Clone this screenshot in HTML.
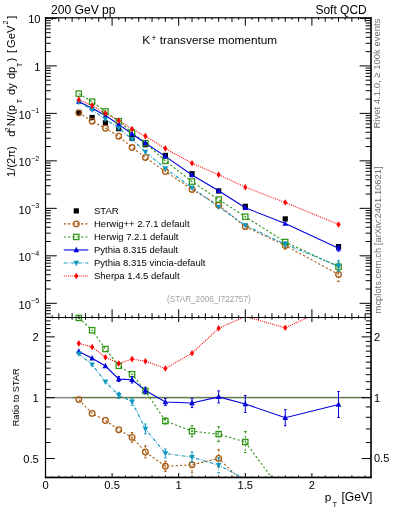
<!DOCTYPE html><html><head><meta charset="utf-8"><style>html,body{margin:0;padding:0;background:#fff;width:393px;height:512px;overflow:hidden}svg{display:block;will-change:transform}text{font-family:"Liberation Sans",sans-serif}</style></head><body>
<svg width="393" height="512" viewBox="0 0 393 512">
<defs><clipPath id="cm"><rect x="45.5" y="17.8" width="325.4" height="299.5"/></clipPath><clipPath id="cr"><rect x="45.5" y="317.3" width="325.4" height="160.5"/></clipPath></defs>
<g clip-path="url(#cm)">
<rect x="76.20" y="109.80" width="5.2" height="5.2" fill="#000"/>
<rect x="89.52" y="114.90" width="5.2" height="5.2" fill="#000"/>
<rect x="102.84" y="120.30" width="5.2" height="5.2" fill="#000"/>
<rect x="116.16" y="126.10" width="5.2" height="5.2" fill="#000"/>
<rect x="129.48" y="135.60" width="5.2" height="5.2" fill="#000"/>
<rect x="142.80" y="142.10" width="5.2" height="5.2" fill="#000"/>
<rect x="162.78" y="152.80" width="5.2" height="5.2" fill="#000"/>
<rect x="189.42" y="171.10" width="5.2" height="5.2" fill="#000"/>
<rect x="216.06" y="188.40" width="5.2" height="5.2" fill="#000"/>
<rect x="242.70" y="203.70" width="5.2" height="5.2" fill="#000"/>
<rect x="282.66" y="216.30" width="5.2" height="5.2" fill="#000"/>
<rect x="335.94" y="244.00" width="5.2" height="5.2" fill="#000"/>
<polyline points="78.80,112.85 92.12,121.19 105.44,128.26 118.76,136.22 132.08,147.53 145.40,157.43 165.38,171.52 192.02,189.46 218.66,205.26 245.30,226.65 285.26,245.60 338.54,274.40" stroke="#a85a12" stroke-width="1.1" fill="none" stroke-dasharray="2.2,2.1"/>
<polyline points="78.80,93.65 92.12,101.64 105.44,111.46 118.76,121.21 132.08,132.68 145.40,143.13 165.38,160.87 192.02,181.57 218.66,199.55 245.30,216.71 285.26,242.00 338.54,266.80" stroke="#2e9414" stroke-width="1.1" fill="none" stroke-dasharray="2.2,2.1"/>
<polyline points="78.80,101.55 92.12,108.24 105.44,115.45 118.76,124.33 132.08,133.99 145.40,143.01 165.38,156.41 192.02,174.95 218.66,190.81 245.30,207.78 285.26,223.60 338.54,248.20" stroke="#0000dc" stroke-width="1.1" fill="none"/>
<polyline points="78.80,102.09 92.12,109.72 105.44,119.16 118.76,128.14 132.08,139.16 145.40,152.03 165.38,168.49 192.02,187.68 218.66,206.86 245.30,225.40 285.26,244.30 338.54,266.00" stroke="#0f98bf" stroke-width="1.1" fill="none" stroke-dasharray="3.4,1.5,0.8,1.5"/>
<polyline points="78.80,99.64 92.12,105.59 105.44,113.39 118.76,120.67 132.08,129.13 145.40,136.12 165.38,148.54 192.02,163.25 218.66,174.70 245.30,187.22 285.26,202.48 338.54,224.49" stroke="#ff0000" stroke-width="1.1" fill="none" stroke-dasharray="1,1.1"/>
<circle cx="78.80" cy="112.85" r="2.8" fill="none" stroke="#a85a12" stroke-width="1.3"/>
<circle cx="92.12" cy="121.19" r="2.8" fill="none" stroke="#a85a12" stroke-width="1.3"/>
<circle cx="105.44" cy="128.26" r="2.8" fill="none" stroke="#a85a12" stroke-width="1.3"/>
<circle cx="118.76" cy="136.22" r="2.8" fill="none" stroke="#a85a12" stroke-width="1.3"/>
<circle cx="132.08" cy="147.53" r="2.8" fill="none" stroke="#a85a12" stroke-width="1.3"/>
<circle cx="145.40" cy="157.43" r="2.8" fill="none" stroke="#a85a12" stroke-width="1.3"/>
<circle cx="165.38" cy="171.52" r="2.8" fill="none" stroke="#a85a12" stroke-width="1.3"/>
<circle cx="192.02" cy="189.46" r="2.8" fill="none" stroke="#a85a12" stroke-width="1.3"/>
<circle cx="218.66" cy="205.26" r="2.8" fill="none" stroke="#a85a12" stroke-width="1.3"/>
<circle cx="245.30" cy="226.65" r="2.8" fill="none" stroke="#a85a12" stroke-width="1.3"/>
<path d="M285.26,242.10V249.10" stroke="#a85a12" stroke-width="1" stroke-dasharray="2.2,2.1" fill="none"/><path d="M283.96,242.10H286.56M283.96,249.10H286.56" stroke="#a85a12" stroke-width="1" fill="none"/>
<circle cx="285.26" cy="245.60" r="2.8" fill="none" stroke="#a85a12" stroke-width="1.3"/>
<path d="M338.54,267.40V281.40" stroke="#a85a12" stroke-width="1" stroke-dasharray="2.2,2.1" fill="none"/><path d="M337.24,267.40H339.84M337.24,281.40H339.84" stroke="#a85a12" stroke-width="1" fill="none"/>
<circle cx="338.54" cy="274.40" r="2.8" fill="none" stroke="#a85a12" stroke-width="1.3"/>
<rect x="76.15" y="91.00" width="5.3" height="5.3" fill="none" stroke="#2e9414" stroke-width="1.25"/>
<rect x="89.47" y="98.99" width="5.3" height="5.3" fill="none" stroke="#2e9414" stroke-width="1.25"/>
<rect x="102.79" y="108.81" width="5.3" height="5.3" fill="none" stroke="#2e9414" stroke-width="1.25"/>
<rect x="116.11" y="118.56" width="5.3" height="5.3" fill="none" stroke="#2e9414" stroke-width="1.25"/>
<rect x="129.43" y="130.03" width="5.3" height="5.3" fill="none" stroke="#2e9414" stroke-width="1.25"/>
<rect x="142.75" y="140.48" width="5.3" height="5.3" fill="none" stroke="#2e9414" stroke-width="1.25"/>
<rect x="162.73" y="158.22" width="5.3" height="5.3" fill="none" stroke="#2e9414" stroke-width="1.25"/>
<rect x="189.37" y="178.92" width="5.3" height="5.3" fill="none" stroke="#2e9414" stroke-width="1.25"/>
<rect x="216.01" y="196.90" width="5.3" height="5.3" fill="none" stroke="#2e9414" stroke-width="1.25"/>
<rect x="242.65" y="214.06" width="5.3" height="5.3" fill="none" stroke="#2e9414" stroke-width="1.25"/>
<rect x="282.61" y="239.35" width="5.3" height="5.3" fill="none" stroke="#2e9414" stroke-width="1.25"/>
<path d="M338.54,262.80V270.80" stroke="#2e9414" stroke-width="1" stroke-dasharray="2.2,2.1" fill="none"/><path d="M337.24,262.80H339.84M337.24,270.80H339.84" stroke="#2e9414" stroke-width="1" fill="none"/>
<rect x="335.89" y="264.15" width="5.3" height="5.3" fill="none" stroke="#2e9414" stroke-width="1.25"/>
<path d="M78.80,98.35L81.60,103.75L76.00,103.75Z" fill="#0000dc"/>
<path d="M92.12,105.04L94.92,110.44L89.32,110.44Z" fill="#0000dc"/>
<path d="M105.44,112.25L108.24,117.65L102.64,117.65Z" fill="#0000dc"/>
<path d="M118.76,121.13L121.56,126.53L115.96,126.53Z" fill="#0000dc"/>
<path d="M132.08,130.79L134.88,136.19L129.28,136.19Z" fill="#0000dc"/>
<path d="M145.40,139.81L148.20,145.21L142.60,145.21Z" fill="#0000dc"/>
<path d="M165.38,153.21L168.18,158.61L162.58,158.61Z" fill="#0000dc"/>
<path d="M192.02,171.75L194.82,177.15L189.22,177.15Z" fill="#0000dc"/>
<path d="M218.66,187.61L221.46,193.01L215.86,193.01Z" fill="#0000dc"/>
<path d="M245.30,204.58L248.10,209.98L242.50,209.98Z" fill="#0000dc"/>
<path d="M285.26,220.40L288.06,225.80L282.46,225.80Z" fill="#0000dc"/>
<path d="M338.54,245.20V251.20" stroke="#0000dc" stroke-width="1" fill="none"/><path d="M337.24,245.20H339.84M337.24,251.20H339.84" stroke="#0000dc" stroke-width="1" fill="none"/>
<path d="M338.54,245.00L341.34,250.40L335.74,250.40Z" fill="#0000dc"/>
<path d="M78.80,105.29L81.60,99.89L76.00,99.89Z" fill="#0f98bf"/>
<path d="M92.12,112.92L94.92,107.52L89.32,107.52Z" fill="#0f98bf"/>
<path d="M105.44,122.36L108.24,116.96L102.64,116.96Z" fill="#0f98bf"/>
<path d="M118.76,131.34L121.56,125.94L115.96,125.94Z" fill="#0f98bf"/>
<path d="M132.08,142.36L134.88,136.96L129.28,136.96Z" fill="#0f98bf"/>
<path d="M145.40,155.23L148.20,149.83L142.60,149.83Z" fill="#0f98bf"/>
<path d="M165.38,171.69L168.18,166.29L162.58,166.29Z" fill="#0f98bf"/>
<path d="M192.02,190.88L194.82,185.48L189.22,185.48Z" fill="#0f98bf"/>
<path d="M218.66,210.06L221.46,204.66L215.86,204.66Z" fill="#0f98bf"/>
<path d="M245.30,228.60L248.10,223.20L242.50,223.20Z" fill="#0f98bf"/>
<path d="M285.26,241.80V246.80" stroke="#0f98bf" stroke-width="1" stroke-dasharray="3.4,1.5,0.8,1.5" fill="none"/><path d="M283.96,241.80H286.56M283.96,246.80H286.56" stroke="#0f98bf" stroke-width="1" fill="none"/>
<path d="M285.26,247.50L288.06,242.10L282.46,242.10Z" fill="#0f98bf"/>
<path d="M338.54,260.40V271.60" stroke="#0f98bf" stroke-width="1" stroke-dasharray="3.4,1.5,0.8,1.5" fill="none"/><path d="M337.24,260.40H339.84M337.24,271.60H339.84" stroke="#0f98bf" stroke-width="1" fill="none"/>
<path d="M338.54,269.20L341.34,263.80L335.74,263.80Z" fill="#0f98bf"/>
<path d="M78.80,96.34L80.90,99.64L78.80,102.94L76.70,99.64Z" fill="#ff0000"/>
<path d="M92.12,102.29L94.22,105.59L92.12,108.89L90.02,105.59Z" fill="#ff0000"/>
<path d="M105.44,110.09L107.54,113.39L105.44,116.69L103.34,113.39Z" fill="#ff0000"/>
<path d="M118.76,117.37L120.86,120.67L118.76,123.97L116.66,120.67Z" fill="#ff0000"/>
<path d="M132.08,125.83L134.18,129.13L132.08,132.43L129.98,129.13Z" fill="#ff0000"/>
<path d="M145.40,132.82L147.50,136.12L145.40,139.42L143.30,136.12Z" fill="#ff0000"/>
<path d="M165.38,145.24L167.48,148.54L165.38,151.84L163.28,148.54Z" fill="#ff0000"/>
<path d="M192.02,159.95L194.12,163.25L192.02,166.55L189.92,163.25Z" fill="#ff0000"/>
<path d="M218.66,171.40L220.76,174.70L218.66,178.00L216.56,174.70Z" fill="#ff0000"/>
<path d="M245.30,183.92L247.40,187.22L245.30,190.52L243.20,187.22Z" fill="#ff0000"/>
<path d="M285.26,199.18L287.36,202.48L285.26,205.78L283.16,202.48Z" fill="#ff0000"/>
<path d="M338.54,221.19L340.64,224.49L338.54,227.79L336.44,224.49Z" fill="#ff0000"/>
</g>
<g clip-path="url(#cr)">
<rect x="45.5" y="396.9" width="325.4" height="1.2" fill="#8a8a8a"/>
<rect x="45.5" y="398.1" width="325.4" height="0.9" fill="#d0d0d0"/>
<rect x="72.14" y="396.9" width="293.04" height="1.2" fill="#5f7f4a"/>
<polyline points="78.80,399.60 92.12,413.40 105.44,420.50 118.76,429.70 132.08,437.40 145.40,451.90 165.38,466.30 192.02,464.80 218.66,458.40 245.30,484.30 285.26,511.35 338.54,516.03" stroke="#a85a12" stroke-width="1.1" fill="none" stroke-dasharray="2.2,2.1"/>
<polyline points="78.80,317.90 92.12,330.20 105.44,349.00 118.76,365.80 132.08,374.20 145.40,391.00 165.38,421.00 192.02,431.20 218.66,434.10 245.30,442.00 285.26,496.03 338.54,483.68" stroke="#2e9414" stroke-width="1.1" fill="none" stroke-dasharray="2.2,2.1"/>
<polyline points="78.80,351.50 92.12,358.30 105.44,366.00 118.76,379.10 132.08,379.80 145.40,390.50 165.38,402.00 192.02,403.00 218.66,396.90 245.30,404.00 285.26,417.70 338.54,404.50" stroke="#0000dc" stroke-width="1.1" fill="none"/>
<polyline points="78.80,353.80 92.12,364.60 105.44,381.80 118.76,395.30 132.08,401.80 145.40,428.90 165.38,453.40 192.02,457.20 218.66,465.20 245.30,479.00 285.26,505.82 338.54,480.28" stroke="#0f98bf" stroke-width="1.1" fill="none" stroke-dasharray="3.4,1.5,0.8,1.5"/>
<polyline points="78.80,343.40 92.12,347.00 105.44,357.20 118.76,363.50 132.08,359.10 145.40,361.20 165.38,368.50 192.02,353.20 218.66,328.30 245.30,316.50 285.26,327.80 338.54,303.60" stroke="#ff0000" stroke-width="1.1" fill="none" stroke-dasharray="1,1.1"/>
</g>
<circle cx="78.80" cy="399.60" r="2.8" fill="none" stroke="#a85a12" stroke-width="1.3"/>
<circle cx="92.12" cy="413.40" r="2.8" fill="none" stroke="#a85a12" stroke-width="1.3"/>
<circle cx="105.44" cy="420.50" r="2.8" fill="none" stroke="#a85a12" stroke-width="1.3"/>
<circle cx="118.76" cy="429.70" r="2.8" fill="none" stroke="#a85a12" stroke-width="1.3"/>
<path d="M132.08,432.60V442.20" stroke="#a85a12" stroke-width="1" stroke-dasharray="2.2,2.1" fill="none"/><path d="M130.78,432.60H133.38M130.78,442.20H133.38" stroke="#a85a12" stroke-width="1" fill="none"/>
<circle cx="132.08" cy="437.40" r="2.8" fill="none" stroke="#a85a12" stroke-width="1.3"/>
<path d="M145.40,445.90V457.90" stroke="#a85a12" stroke-width="1" stroke-dasharray="2.2,2.1" fill="none"/><path d="M144.10,445.90H146.70M144.10,457.90H146.70" stroke="#a85a12" stroke-width="1" fill="none"/>
<circle cx="145.40" cy="451.90" r="2.8" fill="none" stroke="#a85a12" stroke-width="1.3"/>
<path d="M165.38,461.30V471.30" stroke="#a85a12" stroke-width="1" stroke-dasharray="2.2,2.1" fill="none"/><path d="M164.08,461.30H166.68M164.08,471.30H166.68" stroke="#a85a12" stroke-width="1" fill="none"/>
<circle cx="165.38" cy="466.30" r="2.8" fill="none" stroke="#a85a12" stroke-width="1.3"/>
<path d="M192.02,456.80V472.80" stroke="#a85a12" stroke-width="1" stroke-dasharray="2.2,2.1" fill="none"/><path d="M190.72,456.80H193.32M190.72,472.80H193.32" stroke="#a85a12" stroke-width="1" fill="none"/>
<circle cx="192.02" cy="464.80" r="2.8" fill="none" stroke="#a85a12" stroke-width="1.3"/>
<path d="M218.66,449.60V467.20" stroke="#a85a12" stroke-width="1" stroke-dasharray="2.2,2.1" fill="none"/><path d="M217.36,449.60H219.96M217.36,467.20H219.96" stroke="#a85a12" stroke-width="1" fill="none"/>
<circle cx="218.66" cy="458.40" r="2.8" fill="none" stroke="#a85a12" stroke-width="1.3"/>
<rect x="76.15" y="315.25" width="5.3" height="5.3" fill="none" stroke="#2e9414" stroke-width="1.25"/>
<rect x="89.47" y="327.55" width="5.3" height="5.3" fill="none" stroke="#2e9414" stroke-width="1.25"/>
<rect x="102.79" y="346.35" width="5.3" height="5.3" fill="none" stroke="#2e9414" stroke-width="1.25"/>
<rect x="116.11" y="363.15" width="5.3" height="5.3" fill="none" stroke="#2e9414" stroke-width="1.25"/>
<rect x="129.43" y="371.55" width="5.3" height="5.3" fill="none" stroke="#2e9414" stroke-width="1.25"/>
<path d="M145.40,388.50V393.50" stroke="#2e9414" stroke-width="1" stroke-dasharray="2.2,2.1" fill="none"/><path d="M144.10,388.50H146.70M144.10,393.50H146.70" stroke="#2e9414" stroke-width="1" fill="none"/>
<rect x="142.75" y="388.35" width="5.3" height="5.3" fill="none" stroke="#2e9414" stroke-width="1.25"/>
<path d="M165.38,418.00V424.00" stroke="#2e9414" stroke-width="1" stroke-dasharray="2.2,2.1" fill="none"/><path d="M164.08,418.00H166.68M164.08,424.00H166.68" stroke="#2e9414" stroke-width="1" fill="none"/>
<rect x="162.73" y="418.35" width="5.3" height="5.3" fill="none" stroke="#2e9414" stroke-width="1.25"/>
<path d="M192.02,425.70V436.70" stroke="#2e9414" stroke-width="1" stroke-dasharray="2.2,2.1" fill="none"/><path d="M190.72,425.70H193.32M190.72,436.70H193.32" stroke="#2e9414" stroke-width="1" fill="none"/>
<rect x="189.37" y="428.55" width="5.3" height="5.3" fill="none" stroke="#2e9414" stroke-width="1.25"/>
<path d="M218.66,426.60V441.60" stroke="#2e9414" stroke-width="1" stroke-dasharray="2.2,2.1" fill="none"/><path d="M217.36,426.60H219.96M217.36,441.60H219.96" stroke="#2e9414" stroke-width="1" fill="none"/>
<rect x="216.01" y="431.45" width="5.3" height="5.3" fill="none" stroke="#2e9414" stroke-width="1.25"/>
<path d="M245.30,431.50V452.50" stroke="#2e9414" stroke-width="1" stroke-dasharray="2.2,2.1" fill="none"/><path d="M244.00,431.50H246.60M244.00,452.50H246.60" stroke="#2e9414" stroke-width="1" fill="none"/>
<rect x="242.65" y="439.35" width="5.3" height="5.3" fill="none" stroke="#2e9414" stroke-width="1.25"/>
<path d="M78.80,348.30L81.60,353.70L76.00,353.70Z" fill="#0000dc"/>
<path d="M92.12,355.10L94.92,360.50L89.32,360.50Z" fill="#0000dc"/>
<path d="M105.44,362.80L108.24,368.20L102.64,368.20Z" fill="#0000dc"/>
<path d="M118.76,376.60V381.60" stroke="#0000dc" stroke-width="1" fill="none"/><path d="M117.46,376.60H120.06M117.46,381.60H120.06" stroke="#0000dc" stroke-width="1" fill="none"/>
<path d="M118.76,375.90L121.56,381.30L115.96,381.30Z" fill="#0000dc"/>
<path d="M132.08,376.60V383.00" stroke="#0000dc" stroke-width="1" fill="none"/><path d="M130.78,376.60H133.38M130.78,383.00H133.38" stroke="#0000dc" stroke-width="1" fill="none"/>
<path d="M132.08,376.60L134.88,382.00L129.28,382.00Z" fill="#0000dc"/>
<path d="M145.40,387.20V393.80" stroke="#0000dc" stroke-width="1" fill="none"/><path d="M144.10,387.20H146.70M144.10,393.80H146.70" stroke="#0000dc" stroke-width="1" fill="none"/>
<path d="M145.40,387.30L148.20,392.70L142.60,392.70Z" fill="#0000dc"/>
<path d="M165.38,398.50V405.50" stroke="#0000dc" stroke-width="1" fill="none"/><path d="M164.08,398.50H166.68M164.08,405.50H166.68" stroke="#0000dc" stroke-width="1" fill="none"/>
<path d="M165.38,398.80L168.18,404.20L162.58,404.20Z" fill="#0000dc"/>
<path d="M192.02,398.40V407.60" stroke="#0000dc" stroke-width="1" fill="none"/><path d="M190.72,398.40H193.32M190.72,407.60H193.32" stroke="#0000dc" stroke-width="1" fill="none"/>
<path d="M192.02,399.80L194.82,405.20L189.22,405.20Z" fill="#0000dc"/>
<path d="M218.66,390.90V402.90" stroke="#0000dc" stroke-width="1" fill="none"/><path d="M217.36,390.90H219.96M217.36,402.90H219.96" stroke="#0000dc" stroke-width="1" fill="none"/>
<path d="M218.66,393.70L221.46,399.10L215.86,399.10Z" fill="#0000dc"/>
<path d="M245.30,395.50V412.50" stroke="#0000dc" stroke-width="1" fill="none"/><path d="M244.00,395.50H246.60M244.00,412.50H246.60" stroke="#0000dc" stroke-width="1" fill="none"/>
<path d="M245.30,400.80L248.10,406.20L242.50,406.20Z" fill="#0000dc"/>
<path d="M285.26,409.70V425.70" stroke="#0000dc" stroke-width="1" fill="none"/><path d="M283.96,409.70H286.56M283.96,425.70H286.56" stroke="#0000dc" stroke-width="1" fill="none"/>
<path d="M285.26,414.50L288.06,419.90L282.46,419.90Z" fill="#0000dc"/>
<path d="M338.54,391.50V417.50" stroke="#0000dc" stroke-width="1" fill="none"/><path d="M337.24,391.50H339.84M337.24,417.50H339.84" stroke="#0000dc" stroke-width="1" fill="none"/>
<path d="M338.54,401.30L341.34,406.70L335.74,406.70Z" fill="#0000dc"/>
<path d="M78.80,357.00L81.60,351.60L76.00,351.60Z" fill="#0f98bf"/>
<path d="M92.12,367.80L94.92,362.40L89.32,362.40Z" fill="#0f98bf"/>
<path d="M105.44,385.00L108.24,379.60L102.64,379.60Z" fill="#0f98bf"/>
<path d="M118.76,392.30V398.30" stroke="#0f98bf" stroke-width="1" stroke-dasharray="3.4,1.5,0.8,1.5" fill="none"/><path d="M117.46,392.30H120.06M117.46,398.30H120.06" stroke="#0f98bf" stroke-width="1" fill="none"/>
<path d="M118.76,398.50L121.56,393.10L115.96,393.10Z" fill="#0f98bf"/>
<path d="M132.08,398.30V405.30" stroke="#0f98bf" stroke-width="1" stroke-dasharray="3.4,1.5,0.8,1.5" fill="none"/><path d="M130.78,398.30H133.38M130.78,405.30H133.38" stroke="#0f98bf" stroke-width="1" fill="none"/>
<path d="M132.08,405.00L134.88,399.60L129.28,399.60Z" fill="#0f98bf"/>
<path d="M145.40,424.00V433.80" stroke="#0f98bf" stroke-width="1" stroke-dasharray="3.4,1.5,0.8,1.5" fill="none"/><path d="M144.10,424.00H146.70M144.10,433.80H146.70" stroke="#0f98bf" stroke-width="1" fill="none"/>
<path d="M145.40,432.10L148.20,426.70L142.60,426.70Z" fill="#0f98bf"/>
<path d="M165.38,449.00V457.80" stroke="#0f98bf" stroke-width="1" stroke-dasharray="3.4,1.5,0.8,1.5" fill="none"/><path d="M164.08,449.00H166.68M164.08,457.80H166.68" stroke="#0f98bf" stroke-width="1" fill="none"/>
<path d="M165.38,456.60L168.18,451.20L162.58,451.20Z" fill="#0f98bf"/>
<path d="M192.02,451.90V462.50" stroke="#0f98bf" stroke-width="1" stroke-dasharray="3.4,1.5,0.8,1.5" fill="none"/><path d="M190.72,451.90H193.32M190.72,462.50H193.32" stroke="#0f98bf" stroke-width="1" fill="none"/>
<path d="M192.02,460.40L194.82,455.00L189.22,455.00Z" fill="#0f98bf"/>
<path d="M218.66,457.60V472.80" stroke="#0f98bf" stroke-width="1" stroke-dasharray="3.4,1.5,0.8,1.5" fill="none"/><path d="M217.36,457.60H219.96M217.36,472.80H219.96" stroke="#0f98bf" stroke-width="1" fill="none"/>
<path d="M218.66,468.40L221.46,463.00L215.86,463.00Z" fill="#0f98bf"/>
<path d="M78.80,340.10L80.90,343.40L78.80,346.70L76.70,343.40Z" fill="#ff0000"/>
<path d="M92.12,343.70L94.22,347.00L92.12,350.30L90.02,347.00Z" fill="#ff0000"/>
<path d="M105.44,353.90L107.54,357.20L105.44,360.50L103.34,357.20Z" fill="#ff0000"/>
<path d="M118.76,360.20L120.86,363.50L118.76,366.80L116.66,363.50Z" fill="#ff0000"/>
<path d="M132.08,355.80L134.18,359.10L132.08,362.40L129.98,359.10Z" fill="#ff0000"/>
<path d="M145.40,357.90L147.50,361.20L145.40,364.50L143.30,361.20Z" fill="#ff0000"/>
<path d="M165.38,365.20L167.48,368.50L165.38,371.80L163.28,368.50Z" fill="#ff0000"/>
<path d="M192.02,349.90L194.12,353.20L192.02,356.50L189.92,353.20Z" fill="#ff0000"/>
<path d="M218.66,325.00L220.76,328.30L218.66,331.60L216.56,328.30Z" fill="#ff0000"/>
<path d="M285.26,324.50L287.36,327.80L285.26,331.10L283.16,327.80Z" fill="#ff0000"/>
<path d="M45.50,313.83H50.80M365.60,313.83H370.90M45.50,310.65H50.80M365.60,310.65H370.90M45.50,307.90H50.80M365.60,307.90H370.90M45.50,305.47H50.80M365.60,305.47H370.90M45.50,303.30H56.80M359.60,303.30H370.90M45.50,289.01H50.80M365.60,289.01H370.90M45.50,280.65H50.80M365.60,280.65H370.90M45.50,274.71H50.80M365.60,274.71H370.90M45.50,270.11H50.80M365.60,270.11H370.90M45.50,266.35H50.80M365.60,266.35H370.90M45.50,263.17H50.80M365.60,263.17H370.90M45.50,260.42H50.80M365.60,260.42H370.90M45.50,257.99H50.80M365.60,257.99H370.90M45.50,255.82H56.80M359.60,255.82H370.90M45.50,241.53H50.80M365.60,241.53H370.90M45.50,233.17H50.80M365.60,233.17H370.90M45.50,227.23H50.80M365.60,227.23H370.90M45.50,222.63H50.80M365.60,222.63H370.90M45.50,218.87H50.80M365.60,218.87H370.90M45.50,215.69H50.80M365.60,215.69H370.90M45.50,212.94H50.80M365.60,212.94H370.90M45.50,210.51H50.80M365.60,210.51H370.90M45.50,208.34H56.80M359.60,208.34H370.90M45.50,194.05H50.80M365.60,194.05H370.90M45.50,185.69H50.80M365.60,185.69H370.90M45.50,179.75H50.80M365.60,179.75H370.90M45.50,175.15H50.80M365.60,175.15H370.90M45.50,171.39H50.80M365.60,171.39H370.90M45.50,168.21H50.80M365.60,168.21H370.90M45.50,165.46H50.80M365.60,165.46H370.90M45.50,163.03H50.80M365.60,163.03H370.90M45.50,160.86H56.80M359.60,160.86H370.90M45.50,146.57H50.80M365.60,146.57H370.90M45.50,138.21H50.80M365.60,138.21H370.90M45.50,132.27H50.80M365.60,132.27H370.90M45.50,127.67H50.80M365.60,127.67H370.90M45.50,123.91H50.80M365.60,123.91H370.90M45.50,120.73H50.80M365.60,120.73H370.90M45.50,117.98H50.80M365.60,117.98H370.90M45.50,115.55H50.80M365.60,115.55H370.90M45.50,113.38H56.80M359.60,113.38H370.90M45.50,99.09H50.80M365.60,99.09H370.90M45.50,90.73H50.80M365.60,90.73H370.90M45.50,84.79H50.80M365.60,84.79H370.90M45.50,80.19H50.80M365.60,80.19H370.90M45.50,76.43H50.80M365.60,76.43H370.90M45.50,73.25H50.80M365.60,73.25H370.90M45.50,70.50H50.80M365.60,70.50H370.90M45.50,68.07H50.80M365.60,68.07H370.90M45.50,65.90H56.80M359.60,65.90H370.90M45.50,51.61H50.80M365.60,51.61H370.90M45.50,43.25H50.80M365.60,43.25H370.90M45.50,37.31H50.80M365.60,37.31H370.90M45.50,32.71H50.80M365.60,32.71H370.90M45.50,28.95H50.80M365.60,28.95H370.90M45.50,25.77H50.80M365.60,25.77H370.90M45.50,23.02H50.80M365.60,23.02H370.90M45.50,20.59H50.80M365.60,20.59H370.90M45.50,18.42H56.80M359.60,18.42H370.90M45.50,458.54H54.80M361.60,458.54H370.90M45.50,442.54H50.60M365.80,442.54H370.90M45.50,429.01H50.60M365.80,429.01H370.90M45.50,417.29H50.60M365.80,417.29H370.90M45.50,406.95H50.60M365.80,406.95H370.90M45.50,397.70H54.80M361.60,397.70H370.90M45.50,389.33H50.60M365.80,389.33H370.90M45.50,381.70H50.60M365.80,381.70H370.90M45.50,374.67H50.60M365.80,374.67H370.90M45.50,368.17H50.60M365.80,368.17H370.90M45.50,362.11H50.60M365.80,362.11H370.90M45.50,356.45H50.60M365.80,356.45H370.90M45.50,351.13H50.60M365.80,351.13H370.90M45.50,346.11H50.60M365.80,346.11H370.90M45.50,341.36H50.60M365.80,341.36H370.90M45.50,336.86H54.80M361.60,336.86H370.90M45.50,332.58H50.60M365.80,332.58H370.90M45.50,328.50H50.60M365.80,328.50H370.90M45.50,324.59H50.60M365.80,324.59H370.90M45.50,320.86H50.60M365.80,320.86H370.90M45.50,317.28H50.60M365.80,317.28H370.90M45.50,17.80V25.80M45.50,309.30V317.30M45.50,317.30V322.10M45.50,473.00V477.80M52.16,17.80V19.80M52.16,315.30V317.30M52.16,317.30V318.60M52.16,476.50V477.80M58.82,17.80V21.80M58.82,313.30V317.30M58.82,317.30V319.70M58.82,475.40V477.80M65.48,17.80V19.80M65.48,315.30V317.30M65.48,317.30V318.60M65.48,476.50V477.80M72.14,17.80V21.80M72.14,313.30V317.30M72.14,317.30V319.70M72.14,475.40V477.80M78.80,17.80V19.80M78.80,315.30V317.30M78.80,317.30V318.60M78.80,476.50V477.80M85.46,17.80V21.80M85.46,313.30V317.30M85.46,317.30V319.70M85.46,475.40V477.80M92.12,17.80V19.80M92.12,315.30V317.30M92.12,317.30V318.60M92.12,476.50V477.80M98.78,17.80V21.80M98.78,313.30V317.30M98.78,317.30V319.70M98.78,475.40V477.80M105.44,17.80V19.80M105.44,315.30V317.30M105.44,317.30V318.60M105.44,476.50V477.80M112.10,17.80V25.80M112.10,309.30V317.30M112.10,317.30V322.10M112.10,473.00V477.80M118.76,17.80V19.80M118.76,315.30V317.30M118.76,317.30V318.60M118.76,476.50V477.80M125.42,17.80V21.80M125.42,313.30V317.30M125.42,317.30V319.70M125.42,475.40V477.80M132.08,17.80V19.80M132.08,315.30V317.30M132.08,317.30V318.60M132.08,476.50V477.80M138.74,17.80V21.80M138.74,313.30V317.30M138.74,317.30V319.70M138.74,475.40V477.80M145.40,17.80V19.80M145.40,315.30V317.30M145.40,317.30V318.60M145.40,476.50V477.80M152.06,17.80V21.80M152.06,313.30V317.30M152.06,317.30V319.70M152.06,475.40V477.80M158.72,17.80V19.80M158.72,315.30V317.30M158.72,317.30V318.60M158.72,476.50V477.80M165.38,17.80V21.80M165.38,313.30V317.30M165.38,317.30V319.70M165.38,475.40V477.80M172.04,17.80V19.80M172.04,315.30V317.30M172.04,317.30V318.60M172.04,476.50V477.80M178.70,17.80V25.80M178.70,309.30V317.30M178.70,317.30V322.10M178.70,473.00V477.80M185.36,17.80V19.80M185.36,315.30V317.30M185.36,317.30V318.60M185.36,476.50V477.80M192.02,17.80V21.80M192.02,313.30V317.30M192.02,317.30V319.70M192.02,475.40V477.80M198.68,17.80V19.80M198.68,315.30V317.30M198.68,317.30V318.60M198.68,476.50V477.80M205.34,17.80V21.80M205.34,313.30V317.30M205.34,317.30V319.70M205.34,475.40V477.80M212.00,17.80V19.80M212.00,315.30V317.30M212.00,317.30V318.60M212.00,476.50V477.80M218.66,17.80V21.80M218.66,313.30V317.30M218.66,317.30V319.70M218.66,475.40V477.80M225.32,17.80V19.80M225.32,315.30V317.30M225.32,317.30V318.60M225.32,476.50V477.80M231.98,17.80V21.80M231.98,313.30V317.30M231.98,317.30V319.70M231.98,475.40V477.80M238.64,17.80V19.80M238.64,315.30V317.30M238.64,317.30V318.60M238.64,476.50V477.80M245.30,17.80V25.80M245.30,309.30V317.30M245.30,317.30V322.10M245.30,473.00V477.80M251.96,17.80V19.80M251.96,315.30V317.30M251.96,317.30V318.60M251.96,476.50V477.80M258.62,17.80V21.80M258.62,313.30V317.30M258.62,317.30V319.70M258.62,475.40V477.80M265.28,17.80V19.80M265.28,315.30V317.30M265.28,317.30V318.60M265.28,476.50V477.80M271.94,17.80V21.80M271.94,313.30V317.30M271.94,317.30V319.70M271.94,475.40V477.80M278.60,17.80V19.80M278.60,315.30V317.30M278.60,317.30V318.60M278.60,476.50V477.80M285.26,17.80V21.80M285.26,313.30V317.30M285.26,317.30V319.70M285.26,475.40V477.80M291.92,17.80V19.80M291.92,315.30V317.30M291.92,317.30V318.60M291.92,476.50V477.80M298.58,17.80V21.80M298.58,313.30V317.30M298.58,317.30V319.70M298.58,475.40V477.80M305.24,17.80V19.80M305.24,315.30V317.30M305.24,317.30V318.60M305.24,476.50V477.80M311.90,17.80V25.80M311.90,309.30V317.30M311.90,317.30V322.10M311.90,473.00V477.80M318.56,17.80V19.80M318.56,315.30V317.30M318.56,317.30V318.60M318.56,476.50V477.80M325.22,17.80V21.80M325.22,313.30V317.30M325.22,317.30V319.70M325.22,475.40V477.80M331.88,17.80V19.80M331.88,315.30V317.30M331.88,317.30V318.60M331.88,476.50V477.80M338.54,17.80V21.80M338.54,313.30V317.30M338.54,317.30V319.70M338.54,475.40V477.80M345.20,17.80V19.80M345.20,315.30V317.30M345.20,317.30V318.60M345.20,476.50V477.80M351.86,17.80V21.80M351.86,313.30V317.30M351.86,317.30V319.70M351.86,475.40V477.80M358.52,17.80V19.80M358.52,315.30V317.30M358.52,317.30V318.60M358.52,476.50V477.80M365.18,17.80V21.80M365.18,313.30V317.30M365.18,317.30V319.70M365.18,475.40V477.80" stroke="#000" stroke-width="1" fill="none"/>
<rect x="44.9" y="17.2" width="1.2" height="461.0" fill="#000"/>
<rect x="370.2" y="17.2" width="1.6" height="461.1" fill="#000"/>
<rect x="44.9" y="17.2" width="326.6" height="1.2" fill="#000"/>
<rect x="44.9" y="317.0" width="326.6" height="1.0" fill="#000"/>
<rect x="44.9" y="476.6" width="326.6" height="1.7" fill="#000"/>
<text x="40.60" y="23.42" font-size="11.2" text-anchor="end" fill="#000" >10</text>
<text x="40.60" y="70.90" font-size="11.2" text-anchor="end" fill="#000" >1</text>
<text x="39.3" y="118.88" font-size="11.2" text-anchor="end">10<tspan font-size="7.2" dy="-5.6" dx="0.2">−1</tspan></text>
<text x="39.3" y="166.36" font-size="11.2" text-anchor="end">10<tspan font-size="7.2" dy="-5.6" dx="0.2">−2</tspan></text>
<text x="39.3" y="213.84" font-size="11.2" text-anchor="end">10<tspan font-size="7.2" dy="-5.6" dx="0.2">−3</tspan></text>
<text x="39.3" y="261.32" font-size="11.2" text-anchor="end">10<tspan font-size="7.2" dy="-5.6" dx="0.2">−4</tspan></text>
<text x="39.3" y="308.80" font-size="11.2" text-anchor="end">10<tspan font-size="7.2" dy="-5.6" dx="0.2">−5</tspan></text>
<text x="38.80" y="340.86" font-size="11.2" text-anchor="end" fill="#000" >2</text>
<text x="374.00" y="340.56" font-size="11.0" text-anchor="start" fill="#000" >2</text>
<text x="38.80" y="401.70" font-size="11.2" text-anchor="end" fill="#000" >1</text>
<text x="374.00" y="402.40" font-size="11.0" text-anchor="start" fill="#000" >1</text>
<text x="38.80" y="462.54" font-size="11.2" text-anchor="end" fill="#000" >0.5</text>
<text x="374.00" y="462.24" font-size="11.0" text-anchor="start" fill="#000" >0.5</text>
<text x="45.50" y="489.20" font-size="11.2" text-anchor="middle" fill="#000" >0</text>
<text x="112.10" y="489.20" font-size="11.2" text-anchor="middle" fill="#000" >0.5</text>
<text x="178.70" y="489.20" font-size="11.2" text-anchor="middle" fill="#000" >1</text>
<text x="245.30" y="489.20" font-size="11.2" text-anchor="middle" fill="#000" >1.5</text>
<text x="311.90" y="489.20" font-size="11.2" text-anchor="middle" fill="#000" >2</text>
<text x="51.00" y="13.80" font-size="12.1" text-anchor="start" fill="#000" >200 GeV pp</text>
<text x="366.80" y="13.80" font-size="12" text-anchor="end" fill="#000" >Soft QCD</text>
<text x="142.30" y="43.80" font-size="11.8" text-anchor="start" fill="#000" >K</text>
<text x="151.60" y="40.60" font-size="8.4" text-anchor="start" fill="#000" >+</text>
<text x="159.80" y="43.80" font-size="11.8" text-anchor="start" fill="#000" >transverse momentum</text>
<text x="208.90" y="302.20" font-size="8.2" text-anchor="middle" fill="#a0a0a0" >(STAR_2006_I722757)</text>
<text x="324.80" y="501.40" font-size="11.8" text-anchor="start" fill="#000" >p</text>
<text x="332.60" y="507.40" font-size="7.6" text-anchor="start" fill="#000" >T</text>
<text x="341.40" y="501.40" font-size="12.1" text-anchor="start" fill="#000" >[GeV]</text>
<text transform="translate(14.80,177.00) rotate(-90)" font-size="11.2" fill="#000">1/(2π)</text>
<text transform="translate(14.80,136.75) rotate(-90)" font-size="11.2" fill="#000">d</text>
<text transform="translate(9.60,131.60) rotate(-90)" font-size="7.2" fill="#000">2</text>
<text transform="translate(14.80,126.20) rotate(-90)" font-size="11.2" fill="#000">N/(p</text>
<text transform="translate(21.80,103.30) rotate(-90)" font-size="7.2" fill="#000">T</text>
<text transform="translate(14.80,94.95) rotate(-90)" font-size="11.2" fill="#000">dy</text>
<text transform="translate(14.80,79.10) rotate(-90)" font-size="11.2" fill="#000">dp</text>
<text transform="translate(21.80,67.00) rotate(-90)" font-size="7.2" fill="#000">T</text>
<text transform="translate(14.80,61.40) rotate(-90)" font-size="11.2" fill="#000">)</text>
<text transform="translate(14.80,53.00) rotate(-90)" font-size="11.2" fill="#000">[</text>
<text transform="translate(14.80,48.00) rotate(-90)" font-size="11.2" fill="#000">GeV</text>
<text transform="translate(8.40,24.60) rotate(-90)" font-size="7.2" fill="#000">2</text>
<text transform="translate(14.80,18.80) rotate(-90)" font-size="11.2" fill="#000">]</text>
<text transform="translate(18.6,397.35) rotate(-90)" font-size="9.2" text-anchor="middle">Ratio to STAR</text>
<text transform="translate(380.4,18.6) rotate(-90)" font-size="9.5" text-anchor="end" fill="#6e6e6e">Rivet 4.1.0, ≥ 100k events</text>
<text transform="translate(381.0,313.4) rotate(-90)" font-size="9.4" text-anchor="start" fill="#6e6e6e">mcplots.cern.ch [arXiv:2401.10621]</text>
<rect x="73.70" y="208.30" width="5.2" height="5.2" fill="#000"/>
<text x="94.00" y="214.20" font-size="9.5" text-anchor="start" fill="#000" >STAR</text>
<path d="M63.8,223.92H88.4" stroke="#a85a12" stroke-width="1.1" fill="none" stroke-dasharray="2.2,2.1"/>
<circle cx="76.30" cy="223.92" r="2.8" fill="none" stroke="#a85a12" stroke-width="1.3"/>
<text x="94.00" y="227.22" font-size="9.5" text-anchor="start" fill="#000" >Herwig++ 2.7.1 default</text>
<path d="M63.8,236.94H88.4" stroke="#2e9414" stroke-width="1.1" fill="none" stroke-dasharray="2.2,2.1"/>
<rect x="73.65" y="234.29" width="5.3" height="5.3" fill="none" stroke="#2e9414" stroke-width="1.25"/>
<text x="94.00" y="240.24" font-size="9.5" text-anchor="start" fill="#000" >Herwig 7.2.1 default</text>
<path d="M63.8,249.96H88.4" stroke="#0000dc" stroke-width="1.1" fill="none"/>
<path d="M76.30,246.76L79.10,252.16L73.50,252.16Z" fill="#0000dc"/>
<text x="94.00" y="253.26" font-size="9.5" text-anchor="start" fill="#000" >Pythia 8.315 default</text>
<path d="M63.8,262.98H88.4" stroke="#0f98bf" stroke-width="1.1" fill="none" stroke-dasharray="3.4,1.5,0.8,1.5"/>
<path d="M76.30,266.18L79.10,260.78L73.50,260.78Z" fill="#0f98bf"/>
<text x="94.00" y="266.28" font-size="9.5" text-anchor="start" fill="#000" >Pythia 8.315 vincia-default</text>
<path d="M63.8,276.00H88.4" stroke="#ff0000" stroke-width="1.1" fill="none" stroke-dasharray="1,1.1"/>
<path d="M76.30,272.70L78.40,276.00L76.30,279.30L74.20,276.00Z" fill="#ff0000"/>
<text x="94.00" y="279.30" font-size="9.5" text-anchor="start" fill="#000" >Sherpa 1.4.5 default</text>
</svg></body></html>
